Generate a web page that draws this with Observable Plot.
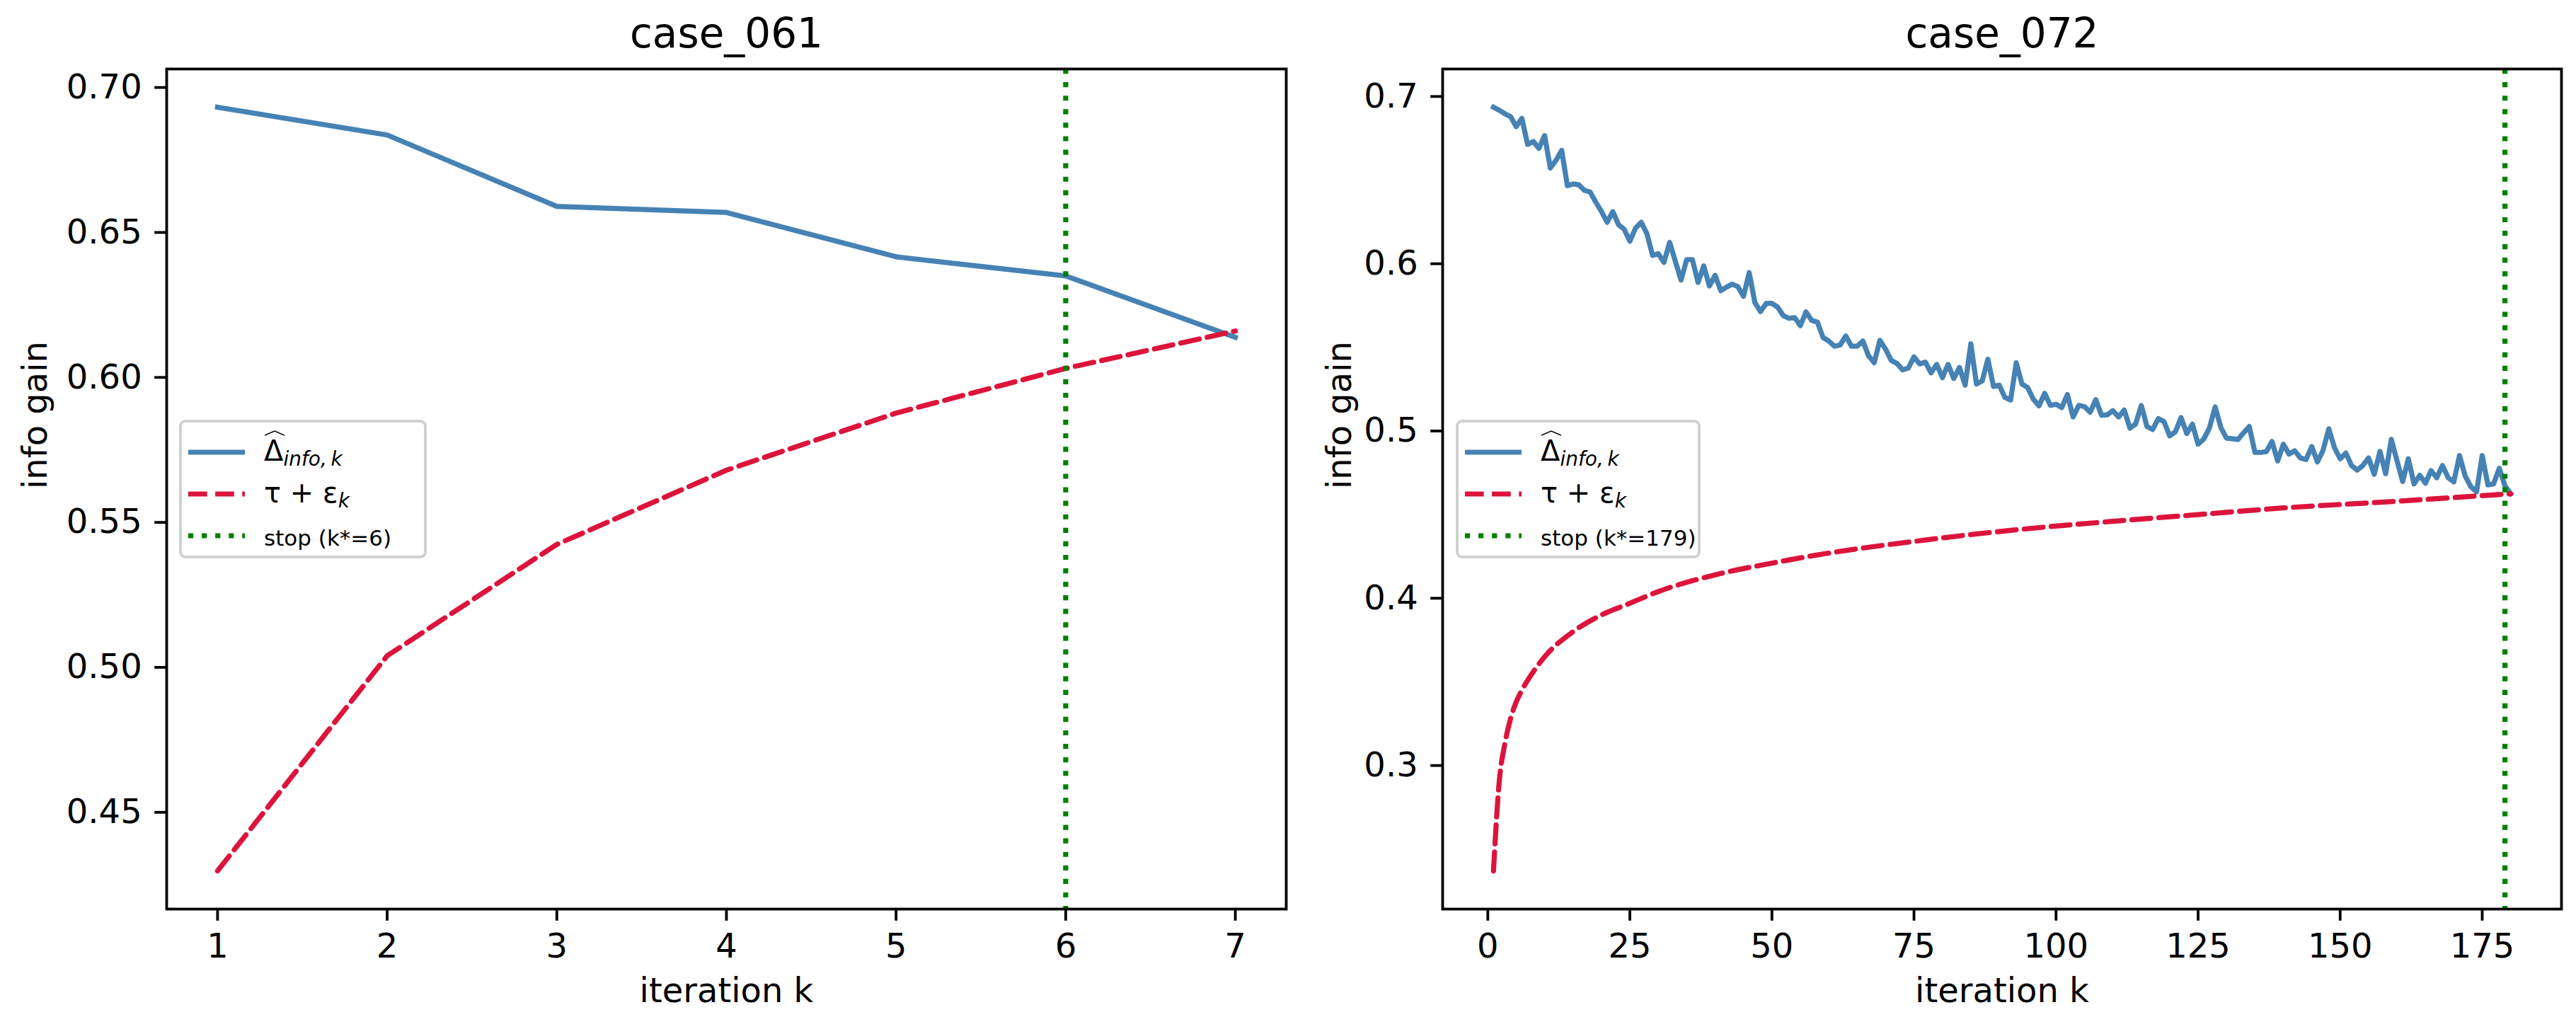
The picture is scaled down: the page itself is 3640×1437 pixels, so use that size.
<!DOCTYPE html>
<html>
<head>
<meta charset="utf-8">
<script src="https://cdn.jsdelivr.net/npm/d3@7"></script>
<script src="https://cdn.jsdelivr.net/npm/@observablehq/plot@0.6"></script>
<style>
  html, body { margin: 0; padding: 0; background: #fff; }
  #fig { position: relative; width: 3640px; height: 1437px; background: #fff; font-family: "DejaVu Sans", sans-serif; }
  #fig > svg { position: absolute; top: 0; }
  .legend { position: absolute; box-sizing: border-box; border: 4px solid rgba(204,204,204,0.9); border-radius: 9px; background: rgba(255,255,255,0.8); font-size: 40px; color: #000; }
  .legend .row { position: absolute; left: 0; height: 56px; display: flex; align-items: center; white-space: nowrap; }
  .legend .row svg { margin-left: 9px; margin-right: 27px; }
  .hat { position: relative; display: inline-block; }
  .hat svg { position: absolute; left: 1px; top: -6px; margin: 0 !important; }
  sub { font-size: 0.7em; vertical-align: -0.25em; font-style: italic; }
</style>
</head>
<body>
<div id="fig"></div>
<script>
// ---- case_061 ----
const leftK = [1, 2, 3, 4, 5, 6, 7];
const leftGain = [0.6932, 0.6836, 0.6590, 0.6569, 0.6416, 0.6350, 0.6138];
const leftThreshold = [0.4298, 0.5040, 0.5424, 0.5680, 0.5877, 0.6031, 0.6160];
const leftStop = 6;
const leftXTicks = [1, 2, 3, 4, 5, 6, 7];
const leftYTicks = [0.45, 0.50, 0.55, 0.60, 0.65, 0.70];

// ---- case_072 ----
const rightGain = [
  0.6936, 0.6918, 0.6897, 0.6880, 0.6820, 0.6869, 0.6714, 0.6731, 0.6690, 0.6766,
  0.6572, 0.6618, 0.6678, 0.6467, 0.6477, 0.6472, 0.6439, 0.6429, 0.6368, 0.6312,
  0.6248, 0.6312, 0.6234, 0.6206, 0.6135, 0.6213, 0.6248, 0.6180, 0.6050, 0.6060,
  0.6008, 0.6128, 0.6015, 0.5902, 0.6025, 0.6025, 0.5888, 0.5987, 0.5867, 0.5931,
  0.5839, 0.5860, 0.5878, 0.5863, 0.5805, 0.5947, 0.5768, 0.5714, 0.5763, 0.5763,
  0.5741, 0.5690, 0.5674, 0.5678, 0.5630, 0.5712, 0.5661, 0.5652, 0.5559, 0.5538,
  0.5507, 0.5514, 0.5568, 0.5507, 0.5507, 0.5538, 0.5450, 0.5408, 0.5542, 0.5489,
  0.5422, 0.5404, 0.5366, 0.5376, 0.5443, 0.5401, 0.5412, 0.5348, 0.5398, 0.5319,
  0.5398, 0.5314, 0.5380, 0.5274, 0.5521, 0.5281, 0.5299, 0.5429, 0.5267, 0.5274,
  0.5201, 0.5185, 0.5408, 0.5281, 0.5260, 0.5190, 0.5150, 0.5225, 0.5153, 0.5160,
  0.5140, 0.5218, 0.5084, 0.5153, 0.5146, 0.5112, 0.5187, 0.5094, 0.5097, 0.5122,
  0.5084, 0.5126, 0.5017, 0.5041, 0.5153, 0.5027, 0.5009, 0.5074, 0.5056, 0.4971,
  0.4995, 0.5080, 0.4985, 0.5041, 0.4921, 0.4952, 0.5019, 0.5144, 0.5022, 0.4957,
  0.4954, 0.4949, 0.4989, 0.5027, 0.4872, 0.4872, 0.4876, 0.4938, 0.4821, 0.4921,
  0.4862, 0.4882, 0.4839, 0.4829, 0.4907, 0.4815, 0.4886, 0.5013, 0.4900, 0.4834,
  0.4868, 0.4794, 0.4766, 0.4794, 0.4839, 0.4741, 0.4878, 0.4745, 0.4950, 0.4823,
  0.4698, 0.4834, 0.4684, 0.4735, 0.4688, 0.4763, 0.4721, 0.4794, 0.4721, 0.4696,
  0.4853, 0.4731, 0.4667, 0.4636, 0.4853, 0.4678, 0.4684, 0.4777, 0.4673, 0.4625
];
const rightThresholdK = [1, 2, 3, 4, 5, 6, 8, 10, 15, 20, 25, 30, 40, 50, 60, 75, 92, 110, 125, 140, 160, 180];
const rightThreshold = [0.237, 0.290, 0.313, 0.328, 0.338, 0.345, 0.356, 0.365, 0.380, 0.390, 0.397, 0.404, 0.414, 0.421, 0.427, 0.434, 0.4406, 0.446, 0.450, 0.454, 0.458, 0.4625];
const rightStop = 179;
const rightXTicks = [0, 25, 50, 75, 100, 125, 150, 175];
const rightYTicks = [0.3, 0.4, 0.5, 0.6, 0.7];

const PT = 4.8;               // pixels per typographic point
const LW = 1.5 * PT;          // data line width
const BLUE = "steelblue", RED = "crimson", GREEN = "green";

// autoscale with 5% padding on each side
function padded(values) {
  const [lo, hi] = d3.extent(values);
  const pad = (hi - lo) * 0.05;
  return [lo - pad, hi + pad];
}

function panel({title, k, gain, thrK, thr, thrCurve, stop, xTicks, yTicks, yFormat, width, marginLeft, marginRight, ylabelX}) {
  const gainRows = k.map((kk, i) => ({k: kk, v: gain[i]}));
  const thrRows = thrK.map((kk, i) => ({k: kk, v: thr[i]}));
  return Plot.plot({
    width, height: 1437,
    marginTop: 97, marginBottom: 153, marginLeft, marginRight,
    style: {fontFamily: "'DejaVu Sans', sans-serif", fontSize: "48px", color: "black", background: "transparent", overflow: "visible"},
    x: {domain: padded(k), ticks: xTicks, tickFormat: d => String(d)},
    y: {domain: padded([...gain, ...thr]), ticks: yTicks, tickFormat: yFormat},
    marks: [
      Plot.line(gainRows, {x: "k", y: "v", stroke: BLUE, strokeWidth: LW, strokeLinejoin: "round", strokeLinecap: "square"}),
      Plot.line(thrRows, {x: "k", y: "v", stroke: RED, strokeWidth: LW, strokeDasharray: `${3.7 * LW},${1.6 * LW}`, curve: thrCurve}),
      Plot.ruleX([stop], {stroke: GREEN, strokeWidth: LW, strokeDasharray: `${1 * LW},${1.65 * LW}`}),
      Plot.frame({stroke: "black", strokeWidth: 0.8 * PT}),
      Plot.axisX({ticks: xTicks, tickFormat: d => String(d), tickSize: 3.5 * PT, tickPadding: 18, strokeWidth: 0.8 * PT, label: null}),
      Plot.axisY({ticks: yTicks, tickFormat: yFormat, tickSize: 3.5 * PT, tickPadding: 18, strokeWidth: 0.8 * PT, label: null}),
      Plot.text([title], {frameAnchor: "top", dy: -49, lineAnchor: "middle", fontSize: 58}),
      Plot.text(["iteration k"], {frameAnchor: "bottom", dy: 116, lineAnchor: "middle", fontSize: 48}),
      Plot.text(["info gain"], {frameAnchor: "left", dx: ylabelX, rotate: -90, lineAnchor: "middle", fontSize: 48})
    ]
  });
}

const fig = document.getElementById("fig");

const left = panel({
  title: "case_061", k: leftK, gain: leftGain, thrK: leftK, thr: leftThreshold, thrCurve: "linear", stop: leftStop,
  xTicks: leftXTicks, yTicks: leftYTicks, yFormat: d3.format(".2f"),
  width: 1830, marginLeft: 235, marginRight: 13, ylabelX: -185
});
left.style.left = "0px";
fig.appendChild(left);

const rightK = rightGain.map((_, i) => i + 1);
const right = panel({
  title: "case_072", k: rightK, gain: rightGain, thrK: rightThresholdK, thr: rightThreshold, thrCurve: "monotone-x", stop: rightStop,
  xTicks: rightXTicks, yTicks: rightYTicks, yFormat: d3.format(".1f"),
  width: 1800, marginLeft: 198, marginRight: 21, ylabelX: -145
});
right.style.left = "1840px";
fig.appendChild(right);

// legends
function swatch(color, dash) {
  const ns = "http://www.w3.org/2000/svg";
  const s = document.createElementNS(ns, "svg");
  s.setAttribute("width", 80); s.setAttribute("height", 20);
  const l = document.createElementNS(ns, "line");
  l.setAttribute("x1", 0); l.setAttribute("x2", 80);
  l.setAttribute("y1", 10); l.setAttribute("y2", 10);
  l.setAttribute("stroke", color); l.setAttribute("stroke-width", LW);
  if (dash) l.setAttribute("stroke-dasharray", dash);
  s.appendChild(l);
  return s;
}

const hatDelta = '<span class="hat">Δ<svg width="28" height="8" viewBox="0 0 28 8"><polyline points="0,7 14,1 28,7" fill="none" stroke="black" stroke-width="1.6"/></svg></span><sub>info,&thinsp;k</sub>';
const tauEps = 'τ + ε<sub>k</sub>';

function legend(x, width, stopLabel) {
  const box = document.createElement("div");
  box.className = "legend";
  Object.assign(box.style, {left: x + "px", top: "593px", width: width + "px", height: "196px"});
  const rows = [
    [BLUE, null, hatDelta, 14],
    [RED, `${3.7 * LW},${1.6 * LW}`, tauEps, 73],
    [GREEN, `${1 * LW},${1.65 * LW}`, `<span style="font-size:31px">${stopLabel}</span>`, 132]
  ];
  for (const [c, d, html, top] of rows) {
    const r = document.createElement("div");
    r.className = "row";
    r.style.top = top + "px";
    r.appendChild(swatch(c, d));
    const t = document.createElement("span");
    t.innerHTML = html;
    r.appendChild(t);
    box.appendChild(r);
  }
  fig.appendChild(box);
}
legend(253, 350, "stop (k*=6)");
legend(2057, 346, "stop (k*=179)");
</script>
</body>
</html>
